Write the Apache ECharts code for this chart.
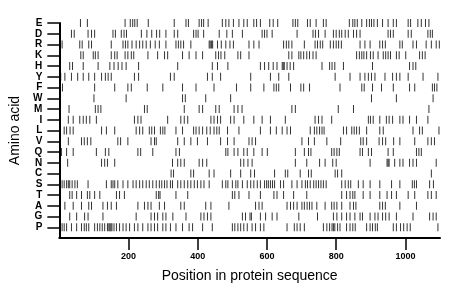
<!DOCTYPE html>
<html>
<head>
<meta charset="utf-8">
<script src="https://cdn.jsdelivr.net/npm/echarts@6/dist/echarts.min.js"></script>
<style>
  html, body { margin: 0; padding: 0; background: #fff; }
  #chart { width: 460px; height: 299px; }
</style>
</head>
<body>
<div id="chart"></div>
<script>
// amino acids, bottom row first
const aminoAcids = ['P', 'G', 'A', 'T', 'S', 'C', 'N', 'Q', 'V', 'L', 'I', 'M', 'W', 'F', 'Y', 'H', 'K', 'R', 'D', 'E']
const xTicks = [200, 400, 600, 800, 1000]
const seqLength = 1100

// residue positions, one array per amino acid
const posE = [61, 81, 190, 205, 212, 218, 225, 257, 332, 366, 373, 404, 411, 417, 430, 471, 481, 490, 503, 519, 533, 543, 562, 570, 581, 608, 618, 631, 675, 682, 689, 717, 725, 742, 763, 771, 838, 848, 854, 861, 874, 888, 896, 902, 909, 919, 934, 950, 965, 974, 1008, 1015, 1036, 1046, 1058, 1068]
const posD = [35, 43, 83, 93, 102, 155, 162, 179, 187, 194, 237, 253, 267, 281, 290, 308, 332, 342, 388, 395, 401, 417, 462, 484, 500, 529, 586, 593, 600, 615, 687, 733, 740, 749, 768, 792, 800, 809, 816, 826, 835, 850, 859, 869, 950, 957, 965, 1008, 1017, 1065, 1072, 1078]
const posR = [8, 59, 66, 85, 93, 150, 184, 191, 198, 210, 222, 232, 241, 251, 263, 277, 289, 308, 337, 344, 351, 359, 380, 433, 436, 440, 443, 457, 468, 481, 493, 503, 548, 562, 577, 648, 656, 663, 672, 708, 739, 746, 754, 761, 783, 792, 800, 807, 815, 869, 883, 898, 926, 934, 942, 984, 991, 1022, 1032, 1060, 1075, 1089, 1098]
const posK = [62, 69, 98, 104, 112, 150, 160, 167, 190, 198, 208, 215, 256, 284, 304, 313, 356, 375, 395, 414, 452, 460, 467, 478, 516, 524, 548, 663, 672, 692, 698, 706, 715, 723, 733, 742, 859, 867, 874, 880, 888, 899, 907, 921, 936, 943, 950, 957, 974, 982, 1001, 1041, 1049, 1057]
const posH = [30, 38, 69, 112, 146, 158, 170, 181, 193, 229, 342, 442, 457, 487, 581, 593, 605, 618, 629, 644, 647, 650, 658, 667, 677, 759, 781, 788, 796, 821, 905, 1012, 1022, 1030]
const posY = [4, 16, 35, 53, 69, 85, 102, 122, 133, 141, 150, 217, 229, 321, 332, 428, 442, 466, 553, 610, 634, 663, 797, 840, 869, 883, 893, 902, 912, 941, 963, 974, 984, 1008, 1051, 1094]
const posF = [9, 102, 160, 198, 208, 254, 299, 356, 395, 447, 512, 553, 591, 620, 627, 634, 668, 698, 706, 723, 811, 874, 881, 905, 931, 965, 1012, 1027, 1078, 1084, 1091]
const posW = [100, 193, 356, 364, 423, 495, 902, 974, 1080]
const posM = [28, 104, 112, 120, 246, 254, 361, 404, 414, 452, 462, 505, 516, 528, 672, 682, 806, 850, 1068]
const posI = [26, 40, 59, 69, 78, 88, 107, 217, 227, 236, 313, 351, 361, 371, 438, 447, 457, 466, 495, 505, 533, 562, 586, 610, 653, 739, 749, 759, 787, 893, 899, 907, 926, 945, 953, 963, 984, 993, 1012, 1032, 1065]
const posL = [14, 21, 31, 40, 122, 136, 160, 222, 232, 241, 260, 267, 275, 292, 299, 305, 337, 356, 388, 395, 404, 414, 426, 436, 447, 455, 462, 486, 519, 581, 610, 627, 644, 658, 668, 725, 737, 744, 752, 759, 765, 821, 830, 845, 852, 859, 867, 888, 926, 936, 1022, 1041, 1049, 1097]
const posV = [26, 64, 72, 81, 91, 169, 177, 198, 265, 275, 280, 342, 361, 380, 399, 428, 466, 486, 505, 548, 557, 567, 701, 720, 737, 773, 813, 871, 878, 888, 924, 934, 943, 966, 984, 1027, 1065, 1075, 1084]
const posQ = [6, 21, 40, 107, 133, 143, 227, 235, 270, 337, 347, 481, 487, 505, 516, 533, 543, 562, 586, 601, 682, 708, 720, 727, 787, 794, 802, 809, 869, 876, 893, 902, 950, 965, 1032, 1039, 1046]
const posN = [24, 122, 131, 139, 160, 327, 342, 351, 361, 404, 414, 426, 524, 533, 545, 557, 682, 715, 752, 768, 790, 800, 898, 947, 950, 953, 969, 984, 993, 1012, 1022, 1032, 1089]
const posC = [323, 330, 380, 388, 433, 447, 495, 524, 553, 564, 622, 653, 660, 696, 720, 728, 797, 804, 816, 1075]
const posS = [8, 14, 21, 26, 30, 37, 45, 52, 83, 136, 150, 155, 160, 169, 184, 198, 213, 222, 232, 241, 251, 260, 270, 280, 289, 296, 304, 311, 321, 327, 342, 351, 361, 371, 380, 390, 399, 409, 418, 433, 471, 481, 487, 500, 510, 516, 529, 543, 553, 562, 572, 581, 593, 599, 604, 610, 616, 622, 639, 648, 672, 687, 701, 711, 717, 725, 735, 742, 749, 756, 763, 771, 816, 826, 835, 842, 864, 878, 898, 926, 960, 984, 1020, 1026, 1032, 1070, 1081]
const posT = [30, 37, 50, 64, 81, 88, 102, 117, 165, 174, 188, 280, 287, 291, 337, 371, 500, 507, 519, 548, 581, 620, 629, 648, 677, 715, 816, 830, 840, 848, 854, 878, 898, 926, 947, 960, 974, 1008, 1027, 1065, 1075, 1089]
const posA = [16, 40, 64, 85, 93, 126, 139, 150, 165, 227, 246, 256, 265, 289, 304, 351, 361, 423, 438, 490, 567, 577, 586, 658, 668, 677, 687, 701, 708, 716, 723, 730, 744, 768, 787, 794, 802, 816, 840, 850, 857, 926, 934, 942, 984, 1032]
const posG = [30, 50, 73, 83, 126, 222, 265, 275, 284, 299, 308, 328, 366, 409, 418, 428, 438, 529, 538, 551, 555, 581, 596, 615, 629, 692, 746, 792, 802, 816, 830, 840, 854, 869, 876, 898, 912, 921, 934, 943, 953, 974, 1022, 1070, 1080, 1089]
const posP = [8, 14, 21, 35, 50, 64, 72, 78, 85, 102, 110, 117, 124, 131, 139, 143, 146, 149, 152, 158, 165, 174, 184, 193, 203, 217, 227, 241, 256, 265, 275, 284, 299, 308, 321, 337, 356, 375, 385, 414, 442, 500, 507, 516, 524, 533, 543, 557, 567, 581, 591, 658, 679, 687, 696, 708, 763, 773, 781, 788, 792, 796, 804, 811, 830, 840, 848, 855, 888, 898, 905, 913, 919, 965, 974, 986, 995, 1005, 1014, 1094]

const rows = { P: posP, G: posG, A: posA, T: posT, S: posS, C: posC, N: posN, Q: posQ, V: posV, L: posL, I: posI, M: posM, W: posW, F: posF, Y: posY, H: posH, K: posK, R: posR, D: posD, E: posE }

const points = []
aminoAcids.forEach((aa, i) => {
  rows[aa].forEach((p) => points.push([p, i + 1]))
})

const chart = echarts.init(document.getElementById('chart'))
const font = 'Liberation Sans, Arial, Helvetica, sans-serif'

chart.setOption({
  animation: false,
  backgroundColor: '#fff',
  grid: { left: 58, right: 20, top: 23, bottom: 61, containLabel: false },
  xAxis: {
    type: 'value',
    min: 0,
    max: seqLength,
    name: 'Position in protein sequence',
    nameLocation: 'middle',
    nameGap: 31,
    nameTextStyle: { color: '#000', fontSize: 14, fontFamily: font },
    splitLine: { show: false },
    axisLine: { show: true, onZero: false, lineStyle: { color: '#000', width: 2 } },
    axisTick: { show: true, length: 12, customValues: xTicks, lineStyle: { color: '#000', width: 1.5 } },
    axisLabel: {
      customValues: xTicks,
      margin: 14,
      color: '#000',
      fontSize: 9,
      fontWeight: 'bold',
      fontFamily: font,
      formatter: (v) => String(v),
    },
  },
  yAxis: {
    type: 'value',
    min: 0,
    max: 20,
    name: 'Amino acid',
    nameLocation: 'middle',
    nameRotate: 90,
    nameGap: 26,
    nameTextStyle: { color: '#000', fontSize: 14, fontFamily: font },
    splitLine: { show: false },
    axisLine: { show: true, onZero: false, lineStyle: { color: '#000', width: 2 } },
    axisTick: { show: true, length: 12, customValues: aminoAcids.map((_, i) => i + 1), lineStyle: { color: '#000', width: 1.5 } },
    axisLabel: {
      customValues: aminoAcids.map((_, i) => i + 1),
      margin: 17,
      color: '#000',
      fontSize: 10,
      fontWeight: 'bold',
      fontFamily: font,
      formatter: (v) => aminoAcids[v - 1] || '',
    },
  },
  series: [
    {
      type: 'scatter',
      data: points,
      symbol: 'rect',
      symbolSize: [1, 8],
      itemStyle: { color: '#000' },
      silent: true,
    },
  ],
})
</script>
</body>
</html>
